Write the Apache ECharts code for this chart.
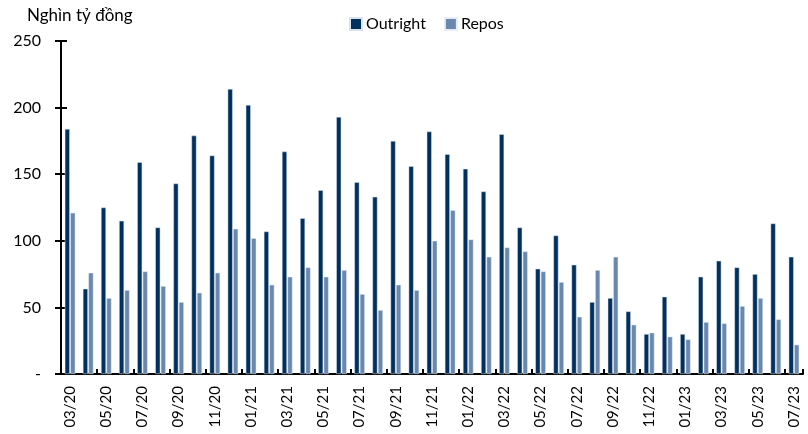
<!DOCTYPE html>
<html>
<head>
<meta charset="utf-8">
<script src="https://cdn.jsdelivr.net/npm/echarts@6/dist/echarts.min.js"></script>
<style>
  html, body { margin: 0; padding: 0; background: #ffffff; }
  #chart { width: 808px; height: 434px; }
</style>
</head>
<body>
<div id="chart"></div>
<script>
// thang/nam
const months = [
  "03/20", "04/20", "05/20", "06/20", "07/20", "08/20", "09/20", "10/20", "11/20", "12/20",
  "01/21", "02/21", "03/21", "04/21", "05/21", "06/21", "07/21", "08/21", "09/21", "10/21", "11/21", "12/21",
  "01/22", "02/22", "03/22", "04/22", "05/22", "06/22", "07/22", "08/22", "09/22", "10/22", "11/22", "12/22",
  "01/23", "02/23", "03/23", "04/23", "05/23", "06/23", "07/23"
];
const outright = [
  184, 64, 125, 115, 159, 110, 143, 179, 164, 214,
  202, 107, 167, 117, 138, 193, 144, 133, 175, 156, 182, 165,
  154, 137, 180, 110, 79, 104, 82, 54, 57, 47, 30, 58,
  30, 73, 85, 80, 75, 113, 88
];
const repos = [
  121, 76, 57, 63, 77, 66, 54, 61, 76, 109,
  102, 67, 73, 80, 73, 78, 60, 48, 67, 63, 100, 123,
  101, 88, 95, 92, 77, 69, 43, 78, 88, 37, 31, 28,
  26, 39, 38, 51, 57, 41, 22
];

const font = "Lato, 'Liberation Sans', sans-serif";
const chart = echarts.init(document.getElementById("chart"));

const yBase = {
  type: "value",
  min: 0,
  max: 250,
  interval: 50,
  splitLine: { show: false },
  axisLine: { show: true, lineStyle: { color: "#000000", width: 2 } }
};

const option = {
  animation: false,
  textStyle: { fontFamily: font },
  title: {
    text: "Nghìn tỷ đồng",
    left: 22,
    top: 2,
    textStyle: { fontFamily: font, fontSize: 17, fontWeight: "normal", color: "#000000" }
  },
  legend: {
    data: ["Outright", "Repos"],
    left: 344,
    top: 11,
    itemWidth: 12,
    itemHeight: 12,
    itemGap: 18,
    icon: "rect",
    textStyle: { fontFamily: font, fontSize: 16, color: "#000000", padding: [0, 0, 0, -1] }
  },
  grid: { left: 61, right: 5, top: 41, bottom: 60 },
  xAxis: {
    type: "category",
    data: months,
    axisLine: { lineStyle: { color: "#000000", width: 2 } },
    axisTick: { show: true, inside: true, length: 5, lineStyle: { color: "#000000", width: 2 } },
    axisLabel: {
      interval: 1,
      rotate: 90,
      margin: 12,
      fontFamily: font,
      fontSize: 15,
      color: "#000000"
    }
  },
  yAxis: [
    Object.assign({}, yBase, {
      axisTick: { show: true, length: 6, lineStyle: { color: "#000000", width: 2 } },
      axisLabel: {
        margin: 20,
        fontFamily: font,
        fontSize: 16,
        color: "#000000",
        formatter: v => (v === 0 ? "-" : String(v))
      }
    }),
    Object.assign({}, yBase, {
      position: "left",
      axisTick: { show: true, inside: true, length: 6, lineStyle: { color: "#000000", width: 2 } },
      axisLabel: { show: false }
    })
  ],
  series: [
    {
      name: "Outright",
      type: "bar",
      data: outright,
      barWidth: 5,
      barGap: "10%",
      itemStyle: { color: "#00305e", borderColor: "#dbe3ec", borderWidth: 0.5 }
    },
    {
      name: "Repos",
      type: "bar",
      data: repos,
      barWidth: 5,
      itemStyle: { color: "#6a88ad", borderColor: "#e6ecf3", borderWidth: 0.5 }
    }
  ]
};

chart.setOption(option);
</script>
</body>
</html>
